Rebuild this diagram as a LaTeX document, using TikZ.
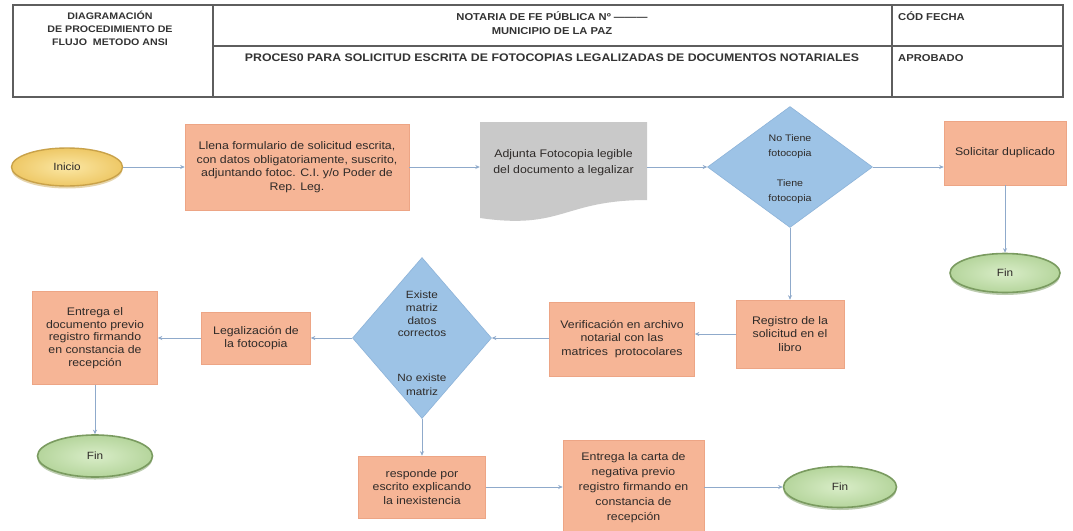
\documentclass[tikz,border=0pt]{standalone}
\usepackage{fontspec}
\setmainfont{Liberation Sans}[FakeStretch=1.12]
\usetikzlibrary{shapes.geometric,arrows.meta,shadows}
\definecolor{boxc}{HTML}{F6B596}
\definecolor{boxd}{HTML}{EDA585}
\definecolor{diac}{HTML}{9DC3E6}
\definecolor{diad}{HTML}{8DB3D9}
\definecolor{docc}{HTML}{C9C9C9}
\definecolor{docd}{HTML}{BDBDBD}
\definecolor{linec}{HTML}{8FAACB}
\definecolor{txt}{HTML}{2E2A28}
\definecolor{hdrc}{HTML}{5E5E5E}
\definecolor{yin}{HTML}{FBE7A4}
\definecolor{yout}{HTML}{EEC866}
\definecolor{yd}{HTML}{C9A24A}
\definecolor{gin}{HTML}{D9EDC8}
\definecolor{gout}{HTML}{B5D59C}
\definecolor{gd}{HTML}{7A9B60}
\begin{document}
\begin{tikzpicture}[x=1pt,y=-1pt,
  proc/.style={rectangle, fill=boxc, draw=boxd, line width=0.6pt, inner sep=0pt, align=center, text=txt, font=\fontsize{11}{13.5}\selectfont},
  dia/.style={diamond, fill=diac, draw=diad, line width=0.6pt, inner sep=0pt},
  diatext/.style={align=center, text=txt, inner sep=0pt},
  yel/.style={ellipse, inner sep=0pt, inner color=yin, outer color=yout, draw=yd, line width=1.4pt, text=txt, font=\fontsize{10.5}{13}\selectfont, drop shadow={opacity=0.45, shadow xshift=0pt, shadow yshift=-2.5pt, fill=yd}},
  fin/.style={ellipse, inner sep=0pt, inner color=gin, outer color=gout, draw=gd, line width=1.6pt, text=txt, font=\fontsize{10.5}{13}\selectfont, drop shadow={opacity=0.5, shadow xshift=0pt, shadow yshift=-2.5pt, fill=gd}},
  arr/.style={draw=linec, line width=0.8pt, -{Stealth[length=4.5pt,width=4pt]}},
  hdr/.style={draw=hdrc, line width=1.2pt},
  htxt/.style={align=center, inner sep=0pt, text=black!80, font=\bfseries\fontsize{9.5}{13}\selectfont}]
\useasboundingbox (0,0) rectangle (1073,530);
\fill[white] (0,0) rectangle (1073,530);
% header
\draw[hdr] (13,5) rectangle (1063,97);
\draw[hdr] (213,5) -- (213,97);
\draw[hdr] (892,5) -- (892,97);
\draw[hdr] (213,46) -- (1063,46);
\node[htxt] (h1) at (110,28) {DIAGRAMACIÓN\\DE PROCEDIMIENTO DE\\FLUJO\ \ METODO ANSI};
\node[htxt, font=\bfseries\fontsize{10}{14}\selectfont] (h2) at (552,23) {NOTARIA DE FE PÚBLICA Nº ---------\\MUNICIPIO DE LA PAZ};
\node[htxt, font=\bfseries\fontsize{11}{13}\selectfont] (h3) at (552,58) {PROCES0 PARA SOLICITUD ESCRITA DE FOTOCOPIAS LEGALIZADAS DE DOCUMENTOS NOTARIALES};
\node[htxt, anchor=west, font=\bfseries\fontsize{10}{13}\selectfont] (h4) at (898,16) {CÓD FECHA};
\node[htxt, anchor=west, font=\bfseries\fontsize{10}{13}\selectfont] (h5) at (898,58) {APROBADO};
% row 1
\node[yel, minimum width=111, minimum height=38] (ini) at (67,167) {Inicio};
\node[proc, minimum width=224, minimum height=86] (b1) at (297,167) {Llena formulario de solicitud escrita,\\con datos obligatoriamente, suscrito,\\adjuntando fotoc. C.I. y/o Poder de\\Rep. Leg.};
\fill[docc] (480,122) -- (647,122) -- (647,200) .. controls (563,200) and (563,230) .. (480,218) -- cycle;
\node[align=center, inner sep=0pt, minimum width=167, minimum height=82, text=txt, font=\fontsize{11}{16}\selectfont] (doc) at (563.5,163) {Adjunta Fotocopia legible\\del documento a legalizar};
\node[dia, minimum width=165, minimum height=121] (d1) at (790,167) {};
\node[diatext, font=\fontsize{9.5}{15}\selectfont] (d1a) at (790,147) {No Tiene\\fotocopia};
\node[diatext, font=\fontsize{9.5}{15}\selectfont] (d1b) at (790,192) {Tiene\\fotocopia};
\node[proc, minimum width=122, minimum height=64] (sol) at (1005,153) {Solicitar duplicado};
\node[fin, minimum width=110, minimum height=39] (fin1) at (1005,273) {Fin};
% row 2
\node[proc, minimum width=108, minimum height=68] (reg) at (790,334) {Registro de la\\solicitud en el\\libro};
\node[proc, minimum width=145, minimum height=74] (ver) at (622,339) {Verificación en archivo\\notarial con las\\matrices\ \ protocolares};
\node[dia, minimum width=139, minimum height=161] (d2) at (422,338) {};
\node[diatext, font=\fontsize{10.5}{12.7}\selectfont] (d2a) at (422,314) {Existe\\matriz\\datos\\correctos};
\node[diatext, font=\fontsize{10.5}{14}\selectfont] (d2b) at (422,385) {No existe\\matriz};
\node[proc, minimum width=109, minimum height=52] (leg) at (256,338) {Legalización de\\la fotocopia};
\node[proc, minimum width=125, minimum height=93, font=\fontsize{11}{12.8}\selectfont] (ent) at (95,338) {Entrega el\\documento previo\\registro firmando\\en constancia de\\recepción};
\node[fin, minimum width=115, minimum height=42] (fin2) at (95,456) {Fin};
% row 3
\node[proc, minimum width=127, minimum height=62] (resp) at (422,487) {responde por\\escrito explicando\\la inexistencia};
\node[proc, minimum width=141, minimum height=96, font=\fontsize{11}{15}\selectfont] (carta) at (633.5,488) {Entrega la carta de\\negativa previo\\registro firmando en\\constancia de\\recepción};
\node[fin, minimum width=113, minimum height=41] (fin3) at (840,487) {Fin};
% connectors
\draw[arr] (ini) -- (b1);
\draw[arr] (b1.east) -- (b1.east -| doc.west);
\draw[arr] (d1.west -| doc.east) -- (d1.west);
\draw[arr] (d1.east) -- (d1.east -| sol.west);
\draw[arr] (sol) -- (fin1);
\draw[arr] (d1.south) -- (reg.north);
\draw[arr] (reg.west) -- (reg.west -| ver.east);
\draw[arr] (d2.east -| ver.west) -- (d2.east);
\draw[arr] (d2.west) -- (leg.east);
\draw[arr] (leg.west) -- (ent.east);
\draw[arr] (ent) -- (fin2);
\draw[arr] (d2.south) -- (resp.north);
\draw[arr] (resp.east) -- (resp.east -| carta.west);
\draw[arr] (carta.east |- fin3.west) -- (fin3.west);
\end{tikzpicture}
\end{document}
